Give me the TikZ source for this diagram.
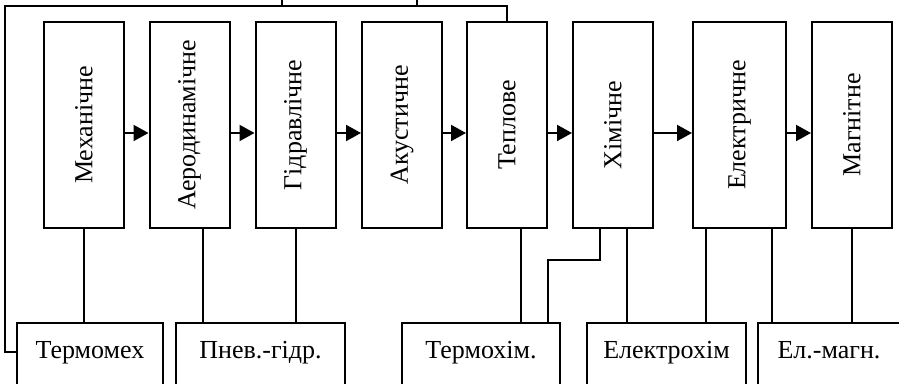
\documentclass[tikz,border=0pt]{standalone}
\usepackage{fontspec}
\setmainfont{Liberation Serif}
\usepackage{graphicx}
\usetikzlibrary{arrows.meta}
\begin{document}
\begin{tikzpicture}[x=0.5pt,y=-0.5pt,
  blok/.style={draw, line width=1pt, inner sep=0pt, font=\fontsize{13}{15}\selectfont},
  vid/.style={blok, minimum width=40pt, minimum height=103pt},
  zv/.style={blok, anchor=north, text height=17.5pt, text depth=31.5pt, minimum height=49pt},
  lin/.style={line width=1pt},
  str/.style={lin, -{Triangle[length=7.5pt,width=8pt]}}]

\def \topy {125}
\def \boty {322}
\def \arrowdrop {-4pt}

\useasboundingbox (0,0) rectangle (899,384);
\begin{scope}
\clip (0,0) rectangle (899,384);

\node[vid] (mech) at (84,\topy) {\rotatebox{90}{Механічне}};
\node[vid] (aero) at (189.5,\topy) {\rotatebox{90}{Аеродинамічне}};
\node[vid] (gidr) at (295.5,\topy) {\rotatebox{90}{Гідравлічне}};
\node[vid] (akus) at (402,\topy) {\rotatebox{90}{Акустичне}};
\node[vid] (teplo) at (507,\topy) {\rotatebox{90}{Теплове}};
\node[vid] (khim) at (613,\topy) {\rotatebox{90}{Хімічне}};
\node[vid, minimum width=46.5pt] (elek) at (739.5,\topy) {\rotatebox{90}{Електричне}};
\node[vid] (magn) at (852,\topy) {\rotatebox{90}{Магнітне}};

\node[zv, minimum width=73pt] (termomeh) at (90,\boty) {Термомех};
\node[zv, minimum width=84.5pt] (pnev) at (260.5,\boty) {Пнев.-гідр.};
\node[zv, minimum width=79pt] (termokhim) at (481,\boty) {Термохім.};
\node[zv, minimum width=79.5pt] (elkhim) at (666.5,\boty) {Електрохім};
\node[zv, minimum width=71pt] (elmagn) at (829,\boty) {Ел.-магн.};

\coordinate (vhidl) at (282,6);
\coordinate (vhidr) at (417,6);
\draw[lin] (vhidl) -- ++(0,-20);
\draw[lin] (vhidr) -- ++(0,-20);

\foreach \a/\b in {mech/aero, aero/gidr, gidr/akus, akus/teplo, teplo/khim, khim/elek, elek/magn}
  \draw[str] ([yshift=\arrowdrop]\a.east) -- ([yshift=\arrowdrop]\b.west);

\draw[lin] (mech.south) -- (mech.south |- termomeh.north);
\draw[lin] ([xshift=6.75pt]aero.south) -- ([xshift=6.75pt]aero.south |- pnev.north);
\draw[lin] (gidr.south) -- (gidr.south |- pnev.north);
\draw[lin] ([xshift=7pt]teplo.south) -- ([xshift=7pt]teplo.south |- termokhim.north);
\draw[lin] ([xshift=-6.5pt]khim.south) -- ++(0,31) -| ([xshift=-6.5pt]termokhim.north east);
\draw[lin] ([xshift=7pt]khim.south) -- ([xshift=7pt]khim.south |- elkhim.north);
\draw[lin] ([xshift=-16.75pt]elek.south) -- ([xshift=-16.75pt]elek.south |- elkhim.north);
\draw[lin] ([xshift=16.25pt]elek.south) -- ([xshift=16.25pt]elek.south |- elmagn.north);
\draw[lin] (magn.south) -- (magn.south |- elmagn.north);

\coordinate (vhod) at ([yshift=-15pt]termomeh.north west);
\draw[lin] (teplo.north) |- (5,6) |- (vhod);
\end{scope}
\end{tikzpicture}
\end{document}
